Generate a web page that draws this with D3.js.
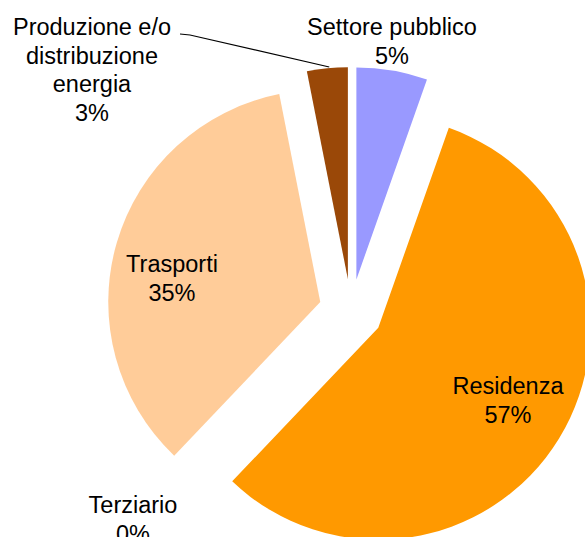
<!DOCTYPE html>
<html>
<head>
<meta charset="utf-8">
<script src="https://cdn.jsdelivr.net/npm/d3@7"></script>
<style>
  html, body { margin: 0; padding: 0; background: #fff; }
  svg { display: block; }
  text { font-family: "Liberation Sans", Arial, sans-serif; fill: #000; }
</style>
</head>
<body>
<svg id="chart" width="585" height="537"></svg>
<script>
// ---- data ----
const categories = ["Settore pubblico", "Residenza", "Terziario", "Trasporti", "Produzione e/o distribuzione energia"];
const values = [5.4, 56.7, 0, 34.8, 3.1];
const percentLabels = ["5%", "57%", "0%", "35%", "3%"];
const colors = ["#9999FF", "#FF9900", "#FFFFFF", "#FFCC99", "#9A4808"];
const nameLines = [
  ["Settore pubblico"],
  ["Residenza"],
  ["Terziario"],
  ["Trasporti"],
  ["Produzione e/o", "distribuzione", "energia"]
];

// ---- layout ----
const W = 585, H = 537;
const cx = 351, cy = 311, R = 212, explode = 32;
const fontSize = 23.5, lineH = 28.5;
// label anchor (center x, first baseline y)
const labelPos = [
  [392, 35],
  [508, 394],
  [133, 513],
  [172, 272],
  [92, 35]
];

const svg = d3.select("#chart");
const g = svg.append("g").attr("transform", `translate(${cx},${cy})`);

const pie = d3.pie().sort(null).value(d => d.v).startAngle(0).endAngle(2 * Math.PI);
const data = pie(values.map((v, i) => ({ v, i })));
const arc = d3.arc().innerRadius(0).outerRadius(R);

g.selectAll("path.slice")
  .data(data.filter(d => d.value > 0))
  .join("path")
  .attr("class", "slice")
  .attr("fill", d => colors[d.data.i])
  .attr("transform", d => {
    const a = (d.startAngle + d.endAngle) / 2;
    return `translate(${explode * Math.sin(a)},${-explode * Math.cos(a)})`;
  })
  .attr("d", arc);

// leader line for Produzione label
const prod = data[4];
const pa = prod.startAngle + (prod.endAngle - prod.startAngle) * 0.55;
const pmid = (prod.startAngle + prod.endAngle) / 2;
const ex = explode * Math.sin(pmid), ey = -explode * Math.cos(pmid);
const px = cx + ex + (R + 1) * Math.sin(pa), py = cy + ey - (R + 1) * Math.cos(pa);
svg.append("path")
  .attr("d", `M180,34 L190,35 L${px},${py}`)
  .attr("fill", "none")
  .attr("stroke", "#000")
  .attr("stroke-width", 1.2);

// labels
nameLines.forEach((lines, i) => {
  const all = lines.concat([percentLabels[i]]);
  const t = svg.append("text")
    .attr("text-anchor", "middle")
    .attr("font-size", fontSize);
  all.forEach((ln, j) => {
    t.append("tspan")
      .attr("x", labelPos[i][0])
      .attr("y", labelPos[i][1] + j * lineH)
      .text(ln);
  });
});
</script>
</body>
</html>
